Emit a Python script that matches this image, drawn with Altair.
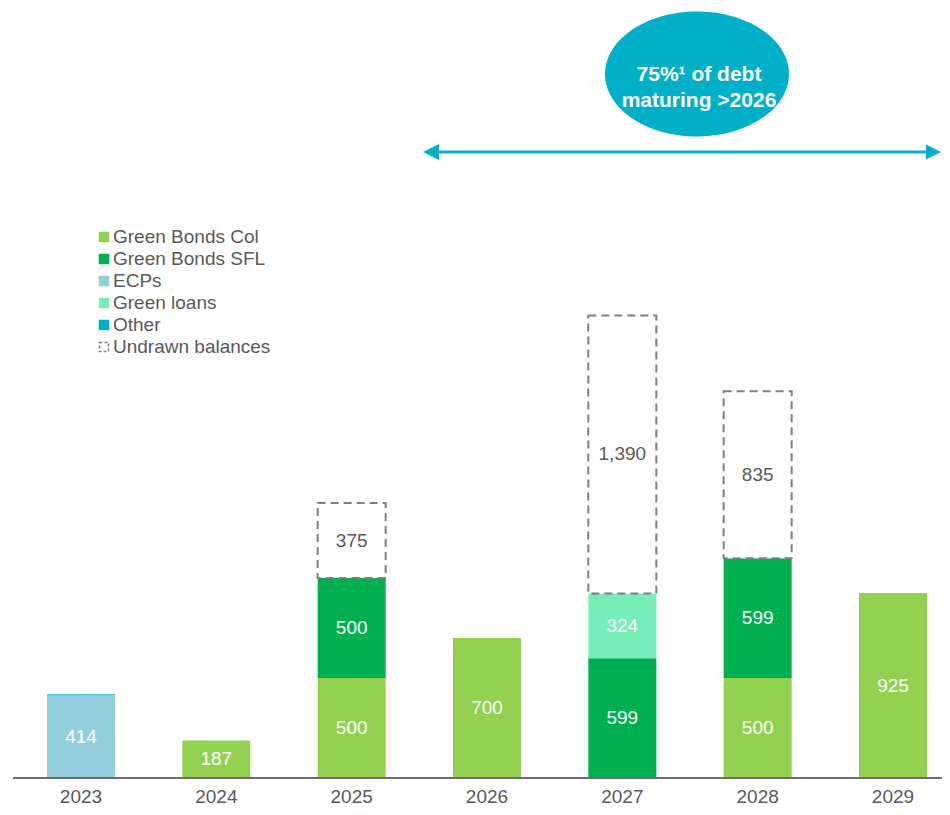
import altair as alt
import pandas as pd

FONT = "Liberation Sans"
GRAY = "#595959"

years = ["2023", "2024", "2025", "2026", "2027", "2028", "2029"]
series = ["Green Bonds Col", "Green Bonds SFL", "ECPs", "Green loans", "Other", "Undrawn balances"]
colors = ["#92D050", "#00B050", "#92CDDC", "#77EDBA", "#00AFC8", "#FFFFFF"]

green_bonds_col = [0, 187, 500, 700, 0, 500, 925]
green_bonds_sfl = [0, 0, 500, 0, 599, 599, 0]
ecps = [414, 0, 0, 0, 0, 0, 0]
green_loans = [0, 0, 0, 0, 324, 0, 0]
other = [5, 0, 0, 0, 0, 0, 0]
undrawn = [0, 0, 375, 0, 1390, 835, 0]

note = "75%¹ of debt\nmaturing >2026"

values_by_series = [green_bonds_col, green_bonds_sfl, ecps, green_loans, other, undrawn]
rows = []
for i, (name, vals) in enumerate(zip(series, values_by_series)):
    for y, v in zip(years, vals):
        if v > 0:
            rows.append({"year": y, "series": name, "value": v, "order": i})
df = pd.DataFrame(rows)

yscale = alt.Scale(domain=[0, 3850], nice=False, zero=True)
color_scale = alt.Scale(domain=series, range=colors)

x_enc = alt.X(
    "year:N",
    scale=alt.Scale(domain=years, paddingInner=0.4975, paddingOuter=0.1995, align=0.722),
    axis=alt.Axis(title=None, domain=False, ticks=False, labelAngle=0, labelFontSize=19,
                  labelColor=GRAY, labelFont=FONT, labelPadding=9),
)

base = alt.Chart(df).transform_stack(
    stack="value", groupby=["year"], sort=[alt.SortField("order", "ascending")], as_=["y0", "y1"]
).transform_calculate(mid="(datum.y0 + datum.y1) / 2")

solid = base.transform_filter("datum.series != 'Undrawn balances'").mark_bar().encode(
    x=x_enc,
    y=alt.Y("y0:Q", scale=yscale, axis=None),
    y2="y1:Q",
    color=alt.Color("series:N", scale=color_scale, legend=None),
)

dashed = base.transform_filter("datum.series == 'Undrawn balances'").mark_bar(
    fill="white", stroke="#7F7F7F", strokeWidth=2, strokeDash=[8, 5]
).encode(
    x=x_enc,
    y=alt.Y("y0:Q", scale=yscale, axis=None),
    y2="y1:Q",
)

labels = base.transform_filter("datum.value >= 100").mark_text(
    font=FONT, fontSize=19, align="center", baseline="middle"
).encode(
    x=x_enc,
    y=alt.Y("mid:Q", scale=yscale, axis=None),
    text=alt.Text("value:Q", format=",.0f"),
    color=alt.condition("datum.series == 'Undrawn balances'", alt.value(GRAY), alt.value("white")),
)

axis_line = alt.Chart(pd.DataFrame({"v": [0]})).mark_rule(color="#6E6E6E", strokeWidth=2).encode(
    x=alt.value(5), x2=alt.value(934), y=alt.Y("v:Q", scale=yscale, axis=None)
)

legend_df = pd.DataFrame({"series": series, "idx": list(range(len(series)))})
leg_y = alt.Y("idx:Q", scale=alt.Scale(domain=[0, 5], range=[229, 339]), axis=None)

leg_sq = alt.Chart(legend_df).transform_filter("datum.series != 'Undrawn balances'").mark_square(
    size=110, opacity=1
).encode(x=alt.value(96), y=leg_y, color=alt.Color("series:N", scale=color_scale, legend=None))

leg_und = alt.Chart(legend_df).transform_filter("datum.series == 'Undrawn balances'").mark_square(
    filled=False, stroke="#7F7F7F", strokeDash=[3, 2], strokeWidth=1.5, size=81, opacity=1
).encode(x=alt.value(96), y=leg_y)

leg_txt = alt.Chart(legend_df).mark_text(
    font=FONT, fontSize=19, align="left", baseline="middle", color=GRAY
).encode(x=alt.value(105), y=leg_y, text="series:N")

ellipse_path = ("M -1 0 C -1 -0.3756 -0.5523 -0.68 0 -0.68 C 0.5523 -0.68 1 -0.3756 1 0 "
                "C 1 0.3756 0.5523 0.68 0 0.68 C -0.5523 0.68 -1 0.3756 -1 0 Z")
note_df = pd.DataFrame({"note": [note]})

ellipse = alt.Chart(note_df).mark_point(
    shape=ellipse_path, size=33856, filled=True, opacity=1, color="#00AFC8", strokeWidth=0
).encode(x=alt.value(689), y=alt.value(66))

note_txt = alt.Chart(note_df).mark_text(
    font=FONT, fontSize=21, fontWeight="bold", color="white", lineBreak="\n", lineHeight=26,
    align="center", baseline="middle"
).encode(x=alt.value(691), y=alt.value(67), text="note:N")

arrow_line = alt.Chart(note_df).mark_rule(color="#00AFC8", strokeWidth=3).encode(
    x=alt.value(425), x2=alt.value(926), y=alt.value(144)
)
arrow_left = alt.Chart(note_df).mark_point(
    shape="M -1 0 L 1 -1 L 1 1 Z", size=256, filled=True, opacity=1, color="#00AFC8", strokeWidth=0
).encode(x=alt.value(423), y=alt.value(144))
arrow_right = alt.Chart(note_df).mark_point(
    shape="M 1 0 L -1 -1 L -1 1 Z", size=225, filled=True, opacity=1, color="#00AFC8", strokeWidth=0
).encode(x=alt.value(925.5), y=alt.value(144))

chart = alt.layer(
    solid, dashed, labels, axis_line, leg_sq, leg_und, leg_txt,
    ellipse, note_txt, arrow_line, arrow_left, arrow_right
).resolve_scale(y="independent").properties(
    width=934, height=770,
    autosize=alt.AutoSizeParams(type="none"),
    padding={"left": 0, "top": 0, "right": 0, "bottom": 29},
    background="white",
).configure_view(stroke=None)

chart.save("out.html", embed_options={"renderer": "svg", "actions": False})
